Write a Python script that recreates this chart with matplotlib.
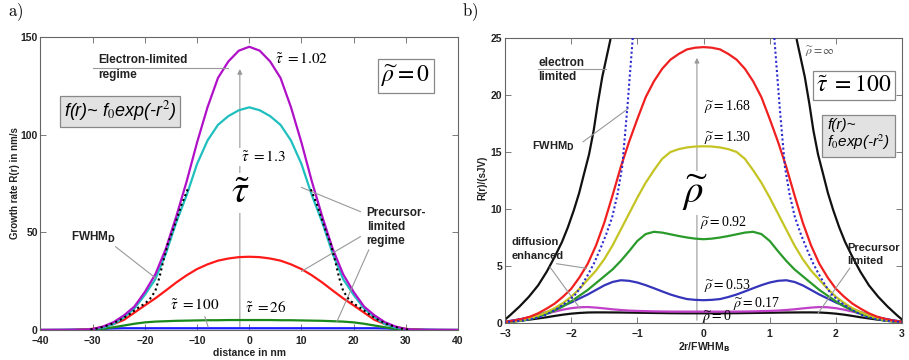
import matplotlib
matplotlib.use('Agg')
import matplotlib.pyplot as plt

plt.rcParams['mathtext.fontset'] = 'stix'
plt.rcParams['font.family'] = ['Liberation Sans', 'DejaVu Sans']

# ---- panel a: growth rate vs distance (rho = 0), half profiles r >= 0
r_a = [0, 2, 4, 6, 8, 10, 12, 14, 16, 18, 20, 22, 24, 26, 28, 30, 32, 34, 36, 38, 40]
tau_102 = [145, 143, 137.5, 129, 114, 96, 76, 58, 41.5, 28.5, 19.5, 12, 7.5, 4, 1.8, 0.5, 0, 0, 0, 0, 0]
tau_13 = [114, 112.5, 109.5, 105, 97, 85, 69, 55, 39, 26, 18, 11, 6.5, 3, 1.2, 0.4, 0, 0, 0, 0, 0]
tau_26 = [37.5, 37.3, 36.6, 35.5, 33.6, 31.2, 28, 24.3, 20.2, 16.2, 12.6, 8.9, 5.2, 3, 1.5, 0.6, 0.2, 0, 0, 0, 0]
tau_100 = [5.1, 5.1, 5.1, 5.0, 5.0, 4.9, 4.8, 4.7, 4.5, 4.3, 3.9, 3.2, 2.3, 1.4, 0.6, 0.2, 0.05, 0, 0, 0, 0]
tau_big = [0.9, 0.9, 0.9, 0.9, 0.9, 0.9, 0.9, 0.9, 0.9, 0.9, 0.9, 0.9, 0.9, 0.8, 0.6, 0.45, 0.3, 0.2, 0.1, 0.05, 0]
fwhm_r_a = [11.8, 13.0, 14.5, 15.6, 16.5, 17.2, 18.0, 19.0, 20.0, 21.5, 23.0, 24.5, 26.0, 27.5, 29.0, 31.0]
fwhm_v_a = [72, 64, 52, 44, 35, 27, 20, 16, 13.5, 11, 8, 5.5, 3.5, 2, 0.8, 0]

# ---- panel b: normalised rate vs 2r/FWHM_B (tau = 100), half profiles
r_b = [0, 0.125, 0.25, 0.375, 0.5, 0.625, 0.75, 0.875, 1.0, 1.125, 1.25, 1.375, 1.5,
       1.625, 1.75, 1.875, 2.0, 2.125, 2.25, 2.375, 2.5, 2.625, 2.75, 2.875, 3.0]
rho_168 = [24.2, 24.15, 24.0, 23.6, 23.1, 22.3, 21.2, 19.8, 17.9, 15.9, 13.7, 11.2, 8.8,
           6.8, 5.2, 4.0, 3.0, 2.3, 1.7, 1.25, 0.85, 0.55, 0.35, 0.2, 0.1]
rho_130 = [15.5, 15.48, 15.4, 15.25, 15.0, 14.4, 13.4, 12.3, 11.0, 9.6, 8.2, 6.8, 5.6,
           4.6, 3.8, 3.0, 2.3, 1.75, 1.3, 0.95, 0.65, 0.42, 0.25, 0.15, 0.1]
rho_092 = [7.35, 7.4, 7.5, 7.63, 7.78, 7.93, 8.0, 7.8, 7.2, 6.3, 5.45, 4.7, 4.1,
           3.5, 2.9, 2.4, 1.9, 1.45, 1.1, 0.8, 0.55, 0.35, 0.2, 0.12, 0.08]
rho_053 = [2.0, 2.03, 2.1, 2.28, 2.5, 2.77, 3.05, 3.32, 3.55, 3.7, 3.75, 3.6, 3.3,
           2.9, 2.5, 2.15, 1.8, 1.5, 1.2, 0.95, 0.7, 0.5, 0.35, 0.22, 0.12]
rho_017 = [1.0, 1.0, 1.0, 1.0, 1.0, 1.01, 1.02, 1.04, 1.06, 1.09, 1.14, 1.2, 1.28,
           1.35, 1.4, 1.38, 1.3, 1.17, 1.0, 0.82, 0.65, 0.5, 0.35, 0.22, 0.12]
rho_0 = [0.85, 0.85, 0.85, 0.855, 0.86, 0.87, 0.88, 0.89, 0.9, 0.91, 0.92, 0.925, 0.93,
         0.93, 0.92, 0.88, 0.82, 0.73, 0.62, 0.5, 0.4, 0.3, 0.22, 0.14, 0.08]
inf_r = [1.33, 1.41, 1.47, 1.53, 1.6, 1.66, 1.73, 1.81, 1.88, 1.96, 2.05, 2.14, 2.25,
         2.37, 2.5, 2.64, 2.78, 2.92, 3.0]
rho_inf = [28, 24.8, 23.2, 21.6, 19.2, 16.9, 14.8, 13.0, 11.4, 9.9, 8.4, 7.1, 5.8,
           4.5, 3.3, 2.3, 1.45, 0.7, 0.3]
fwhm_r_b = [1.03, 1.07, 1.11, 1.15, 1.19, 1.23, 1.3, 1.38, 1.47, 1.56, 1.65, 1.74, 1.83,
            1.92, 2.05, 2.2, 2.32, 2.45, 2.6, 2.75, 3.0]
fwhm_v_b = [27, 25, 22, 19, 16.3, 13.7, 11.3, 9.3, 7.8, 6.5, 5.3, 4.3, 3.4,
            2.6, 1.9, 1.3, 0.9, 0.55, 0.35, 0.2, 0.08]


def both_sides(r, v):
    x = [-a for a in reversed(r)] + list(r[1:])
    y = list(reversed(v)) + list(v[1:])
    return x, y


def style_axes(ax):
    ax.tick_params(direction='in', top=True, right=True, length=4, width=0.6,
                   colors='#666', labelcolor='#222', labelsize=7.5, pad=2)
    ax.tick_params(axis='x', pad=4)
    for lbl in ax.get_xticklabels() + ax.get_yticklabels():
        lbl.set_fontweight('bold')
    for s in ax.spines.values():
        s.set_color('#666')
        s.set_linewidth(0.8)


gray = '#999999'
bold = dict(fontsize=8.5, fontweight='bold', color='#222')

fig = plt.figure(figsize=(9.09, 3.6), dpi=100)

# ================= panel a
ax = fig.add_axes([0.04455, 0.08333, 0.4593, 0.8139])
ax.annotate('', xy=(-1.8, 135), xytext=(-1.8, 0),
            arrowprops=dict(arrowstyle='-|>', color=gray, lw=0.8, mutation_scale=7), zorder=1)
for vals, col in [(tau_big, '#1a1aff'), (tau_100, '#1a8a1a'), (tau_26, '#ff1a1a'),
                  (tau_13, '#1fbfbf'), (tau_102, '#b010c8')]:
    x, y = both_sides(r_a, vals)
    ax.plot(x, y, color=col, lw=1.6, zorder=2)
ax.plot([-a for a in fwhm_r_a], fwhm_v_a, color='k', ls=(0, (1, 1.5)), lw=1.5, zorder=3)
ax.plot(fwhm_r_a, fwhm_v_a, color='k', ls=(0, (1, 1.5)), lw=1.5, zorder=3)
ax.set_xlim(-40, 40)
ax.set_ylim(0, 150)
ax.set_xticks(range(-40, 41, 10))
ax.set_yticks([0, 50, 100, 150])
style_axes(ax)
ax.set_xlabel('distance in nm', fontsize=7.5, fontweight='bold', color='#222')
ax.xaxis.set_label_coords(0.5, -0.06)
ax.set_ylabel('Growth rate R(r) in nm/s', fontsize=7, fontweight='bold', color='#222')
ax.yaxis.set_label_coords(-0.05, 0.5)

ax.text(-29, 138, 'Electron-limited', va='center', **bold)
ax.text(-29, 130.5, 'regime', va='center', **bold)
ax.plot([-30, -4], [134, 134], color=gray, lw=0.8)
ax.text(5, 139, r'$\tilde{\tau}\ =1.02$', fontsize=11, va='center')
ax.text(30, 130, r'$\widetilde{\rho}=0$', fontsize=17, ha='center', va='center',
        bbox=dict(boxstyle='square,pad=0.15', fc='white', ec='#888', lw=0.9))
ax.text(-24.8, 112, r'f(r)~ f$_0$exp(-r$^2$)', fontsize=13, style='italic', ha='center', va='center',
        bbox=dict(boxstyle='square,pad=0.2', fc='#e2e2e2', ec='#888', lw=0.9))
ax.text(-1.6, 88.6, r'$\tilde{\tau}\ =1.3$', fontsize=11, va='center',
        bbox=dict(boxstyle='square,pad=0.1', fc='white', ec='none'), zorder=4)
ax.text(-1.7, 70, r'$\tilde{\tau}$', fontsize=28, ha='center', va='center',
        bbox=dict(boxstyle='square,pad=0.05', fc='white', ec='none'), zorder=4)
ax.text(-34.2, 47.6, r'FWHM$_{\mathbf{D}}$', va='center', math_fontfamily='dejavusans', **bold)
ax.plot([-25.6, -17.9], [42.6, 26.5], color=gray, lw=0.8)
ax.text(22.5, 52.7, 'Precursor-\nlimited\nregime', va='center', linespacing=1.2, **bold)
ax.plot([21.3, 10], [60.6, 73], color=gray, lw=0.8)
ax.plot([21.3, 10], [47.8, 30], color=gray, lw=0.8)
ax.plot([22.9, 16.8], [41, 4.3], color=gray, lw=0.8)
ax.text(-15.2, 12.8, r'$\tilde{\tau}\ =100$', fontsize=11, va='center')
ax.plot([-8.5, -7.9], [6.8, 1.7], color=gray, lw=0.8)
ax.text(-0.8, 11.3, r'$\tilde{\tau}\ =26$', fontsize=11, va='center')

# ================= panel b
bx = fig.add_axes([0.5556, 0.10278, 0.43674, 0.79167])
bx.annotate('', xy=(-0.1, 23.5), xytext=(-0.1, 0),
            arrowprops=dict(arrowstyle='-|>', color=gray, lw=0.8, mutation_scale=7), zorder=1)
for vals, col in [(rho_0, '#111111'), (rho_017, '#c040c8'), (rho_053, '#3535bb'),
                  (rho_092, '#2a9a2a'), (rho_130, '#c4c424'), (rho_168, '#f02020')]:
    x, y = both_sides(r_b, vals)
    bx.plot(x, y, color=col, lw=1.6, zorder=2)
bx.plot([-a for a in inf_r], rho_inf, color='#111111', lw=1.6, zorder=2)
bx.plot(inf_r, rho_inf, color='#111111', lw=1.6, zorder=2)
bx.plot([-a for a in fwhm_r_b], fwhm_v_b, color='#2a2ad0', ls=(0, (1, 1.2)), lw=1.5, zorder=3)
bx.plot(fwhm_r_b, fwhm_v_b, color='#2a2ad0', ls=(0, (1, 1.2)), lw=1.5, zorder=3)
bx.set_xlim(-3, 3)
bx.set_ylim(0, 25)
bx.set_xticks(range(-3, 4))
bx.set_yticks(range(0, 26, 5))
style_axes(bx)
bx.set_xlabel(r'2r/FWHM$_{\mathbf{B}}$', fontsize=7.5, fontweight='bold', color='#222',
              math_fontfamily='dejavusans')
bx.xaxis.set_label_coords(0.5, -0.06)
bx.set_ylabel('R(r)/(sJV)', fontsize=7, fontweight='bold', color='#222')
bx.yaxis.set_label_coords(-0.045, 0.51)

bx.text(-2.5, 22.8, 'electron', va='center', **bold)
bx.text(-2.5, 21.6, 'limited', va='center', **bold)
bx.plot([-2.5, -1.47], [22.25, 22.25], color=gray, lw=0.8)
bx.text(1.53, 23.8, r'$\widetilde{\rho}=\infty$', fontsize=8.5, color='#555', va='center')
bx.text(2.27, 20.8, r'$\tilde{\tau}\ =100$', fontsize=17, ha='center', va='center',
        bbox=dict(boxstyle='square,pad=0.15', fc='white', ec='#888', lw=0.9))
bx.text(1.87, 16.5, 'f(r)~\nf$_0$exp(-r$^2$)', fontsize=11, style='italic', va='center',
        linespacing=1.0,
        bbox=dict(boxstyle='square,pad=0.35', fc='#e2e2e2', ec='#888', lw=0.9))
bx.text(-2.6, 15.5, r'FWHM$_{\mathbf{D}}$', fontsize=8, fontweight='bold', color='#222',
        va='center', math_fontfamily='dejavusans')
bx.plot([-1.82, -1.14], [15.9, 18.8], color=gray, lw=0.8)
for xt, yt, s in [(0, 19, '1.68'), (0, 16.3, '1.30'), (-0.05, 8.8, '0.92'),
                  (0, 3.3, '0.53'), (0.45, 1.75, '0.17'), (-0.03, 0.55, '0')]:
    bx.text(xt, yt, r'$\widetilde{\rho}=$' + s, fontsize=10, va='center', math_fontfamily='stix',
            family='Liberation Serif', zorder=4)
bx.text(-0.13, 11.4, r'$\widetilde{\rho}$', fontsize=28, ha='center', va='center',
        bbox=dict(boxstyle='square,pad=0.05', fc='white', ec='none'), zorder=4)
bx.text(-2.9, 7.1, 'diffusion', va='center', fontsize=8, fontweight='bold', color='#222')
bx.text(-2.9, 5.9, 'enhanced', va='center', fontsize=8, fontweight='bold', color='#222')
bx.plot([-2.22, -1.77], [5.2, 4.8], color=gray, lw=0.8)
bx.plot([-2.32, -1.87], [4.9, 1.3], color=gray, lw=0.8)
bx.text(2.17, 6.55, 'Precursor', va='center', fontsize=8, fontweight='bold', color='#222')
bx.text(2.17, 5.4, 'limited', va='center', fontsize=8, fontweight='bold', color='#222')
bx.plot([2.21, 1.73], [4.8, 0.85], color=gray, lw=0.8)

fig.text(8 / 909, 1 - 12 / 360, r'$\mathrm{a)}$', fontsize=12, va='center', math_fontfamily='cm')
fig.text(462 / 909, 1 - 12 / 360, r'$\mathrm{b)}$', fontsize=12, va='center', math_fontfamily='cm')

fig.savefig('out.png', dpi=100)
